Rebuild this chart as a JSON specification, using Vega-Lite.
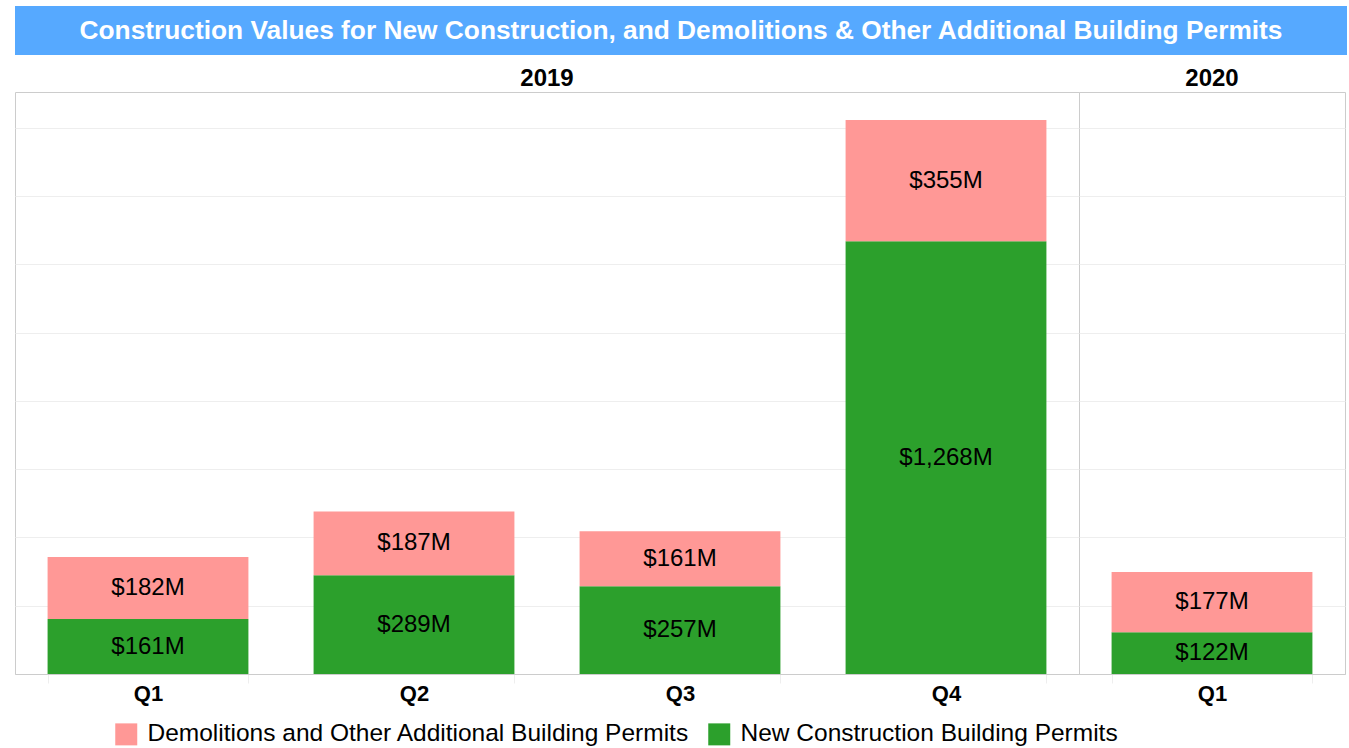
{
  "$schema": "https://vega.github.io/schema/vega-lite/v6.json",
  "padding": {"left": 14, "top": 6, "right": 0, "bottom": 0},
  "background": "white",
  "config": {
    "font": "Liberation Sans",
    "view": {"stroke": "#cccccc"}
  },
  "spacing": 12,
  "vconcat": [
    {
      "width": 1332,
      "height": 49,
      "view": {"fill": "#56a9ff", "stroke": null},
      "data": {"values": [{"t": "Construction Values for New Construction, and Demolitions & Other Additional Building Permits"}]},
      "mark": {"type": "text", "color": "white", "fontWeight": "bold", "fontSize": 26.3, "baseline": "middle", "align": "center"},
      "encoding": {"text": {"field": "t", "type": "nominal"}}
    },
    {
      "data": {
        "values": [
          {"year": "2019", "quarter": "Q1", "series": "New Construction Building Permits", "value": 161},
          {"year": "2019", "quarter": "Q1", "series": "Demolitions and Other Additional Building Permits", "value": 182},
          {"year": "2019", "quarter": "Q2", "series": "New Construction Building Permits", "value": 289},
          {"year": "2019", "quarter": "Q2", "series": "Demolitions and Other Additional Building Permits", "value": 187},
          {"year": "2019", "quarter": "Q3", "series": "New Construction Building Permits", "value": 257},
          {"year": "2019", "quarter": "Q3", "series": "Demolitions and Other Additional Building Permits", "value": 161},
          {"year": "2019", "quarter": "Q4", "series": "New Construction Building Permits", "value": 1268},
          {"year": "2019", "quarter": "Q4", "series": "Demolitions and Other Additional Building Permits", "value": 355},
          {"year": "2020", "quarter": "Q1", "series": "New Construction Building Permits", "value": 122},
          {"year": "2020", "quarter": "Q1", "series": "Demolitions and Other Additional Building Permits", "value": 177}
        ]
      },
      "transform": [
        {"stack": "value", "groupby": ["year", "quarter"], "sort": [{"field": "series", "order": "descending"}], "as": ["v0", "v1"]},
        {"calculate": "(datum.v0 + datum.v1) / 2", "as": "mid"},
        {"calculate": "'$' + format(datum.value, ',') + 'M'", "as": "label"}
      ],
      "facet": {
        "column": {
          "field": "year",
          "type": "ordinal",
          "header": {"title": null, "labelFontSize": 24, "labelFontWeight": "bold", "labelColor": "black", "labelPadding": 1}
        }
      },
      "spacing": 0,
      "bounds": "flush",
      "resolve": {"scale": {"x": "independent"}},
      "spec": {
        "width": {"step": 266},
        "height": 582,
        "encoding": {
          "x": {
            "field": "quarter",
            "type": "nominal",
            "scale": {"paddingInner": 0.245, "paddingOuter": 0.1225},
            "axis": {"title": null, "labelAngle": 0, "labelFontSize": 22, "labelFontWeight": "bold", "labelColor": "black", "domainColor": "#cccccc", "tickColor": "#eeeeee", "tickSize": 9, "tickBand": "extent", "labelPadding": 0}
          }
        },
        "layer": [
          {
            "mark": {"type": "bar"},
            "encoding": {
              "y": {"field": "v1", "type": "quantitative", "scale": {"domain": [0, 1705], "nice": false},
                "axis": {"title": null, "labels": false, "ticks": false, "domain": false, "values": [200, 400, 600, 800, 1000, 1200, 1400, 1600], "gridColor": "#eeeeee"}},
              "y2": {"field": "v0"},
              "color": {
                "field": "series",
                "type": "nominal",
                "scale": {"domain": ["Demolitions and Other Additional Building Permits", "New Construction Building Permits"], "range": ["#ff9896", "#2ca02c"]},
                "legend": {"title": null, "orient": "none", "legendX": 99, "legendY": 716, "direction": "horizontal", "symbolType": "square", "symbolSize": 484, "symbolStrokeWidth": 0, "labelFontSize": 24.5, "labelColor": "black", "labelOffset": 9, "columnPadding": 17, "labelLimit": 800}
              }
            }
          },
          {
            "mark": {"type": "text", "fontSize": 24, "color": "black", "baseline": "middle"},
            "encoding": {
              "y": {"field": "mid", "type": "quantitative"},
              "text": {"field": "label", "type": "nominal"}
            }
          }
        ]
      }
    }
  ]
}
